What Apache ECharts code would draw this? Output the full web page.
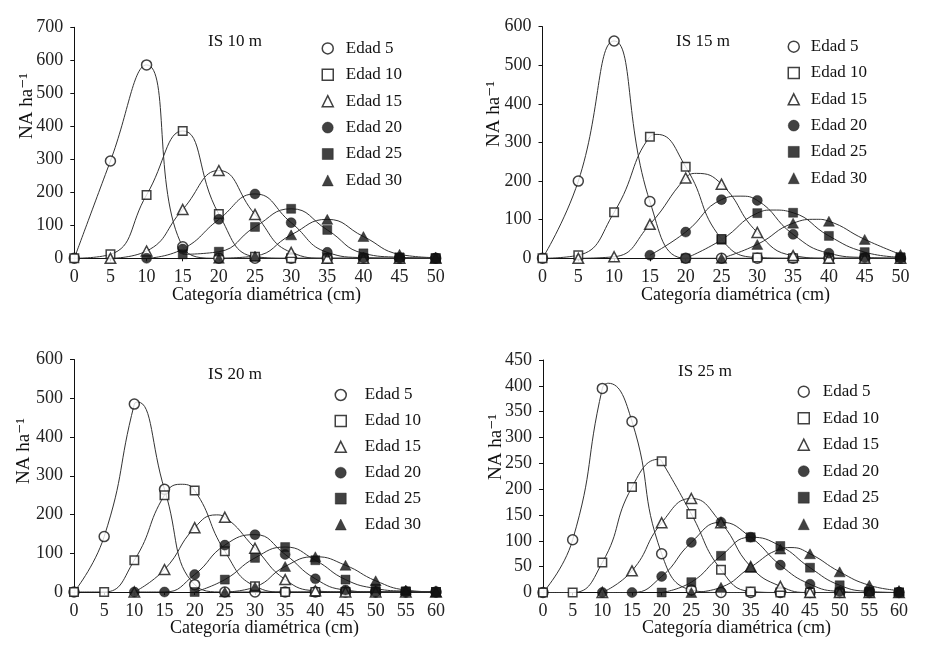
<!DOCTYPE html>
<html><head><meta charset="utf-8">
<script src="https://cdn.jsdelivr.net/npm/echarts@6/dist/echarts.min.js"></script>
<style>html,body{margin:0;padding:0;background:#fff}#c{width:945px;height:653px}</style>
</head><body><div id="c"></div>
<script>
// ---- data ----
const diam50 = [0,5,10,15,20,25,30,35,40,45,50];
const diam60 = [0,5,10,15,20,25,30,35,40,45,50,55,60];
const ageNames = ['Edad 5','Edad 10','Edad 15','Edad 20','Edad 25','Edad 30'];
const panelTitles = ['IS 10 m','IS 15 m','IS 20 m','IS 25 m'];
const yTitle = 'NA ha\u207B\u00B9';
const xTitle = 'Categoría diamétrica (cm)';

// IS 10 m (observed points)
const is10_e5  = [0,295,586,35,0,0,0,0,0,0,0];
const is10_e10 = [0,12,192,386,134,5,0,0,0,0,0];
const is10_e15 = [null,0,22,148,266,133,18,0,0,0,0];
const is10_e20 = [null,null,0,28,118,195,108,18,2,0,0];
const is10_e25 = [null,null,null,12,20,95,150,86,15,3,0];
const is10_e30 = [null,null,null,null,0,7,71,118,66,12,2];
// IS 15 m
const is15_e5  = [0,200,563,147,0,0,0,0,0,0,0];
const is15_e10 = [0,8,119,315,237,50,2,0,0,0,0];
const is15_e15 = [null,0,4,88,208,192,67,7,0,0,0];
const is15_e20 = [null,null,null,8,68,152,150,62,13,2,0];
const is15_e25 = [null,null,null,null,0,48,117,118,58,16,3];
const is15_e30 = [null,null,null,null,null,0,36,91,96,49,10];
// IS 20 m
const is20_e5  = [0,143,485,265,19,0,0,0,0,0,0,0,0];
const is20_e10 = [0,0,82,250,262,105,15,0,0,0,0,0,0];
const is20_e15 = [null,null,0,58,166,193,113,32,3,0,0,0,0];
const is20_e20 = [null,null,0,0,45,121,148,97,34,5,0,0,0];
const is20_e25 = [null,null,null,null,0,32,88,116,82,32,9,2,0];
const is20_e30 = [null,null,null,null,null,0,13,66,91,69,29,5,0];
// IS 25 m
const is25_e5  = [0,102,395,331,75,5,0,0,0,0,0,0,0];
const is25_e10 = [0,0,58,204,254,152,44,2,0,0,0,0,0];
const is25_e15 = [null,null,0,42,135,182,135,50,12,0,0,0,0];
const is25_e20 = [null,null,0,0,31,97,136,107,53,16,2,0,0];
const is25_e25 = [null,null,null,null,0,20,71,107,90,48,14,2,0];
const is25_e30 = [null,null,null,null,null,0,10,49,84,75,40,14,4];

const is10_apex = [null,null,null,null,null,null];
const is15_apex = [null,[16,321],[21.5,220],[27.6,161],[32.2,125],[38.3,101]];
const is20_apex = [[10.6,490],[17.6,278],[23.6,199],null,null,null];
const is25_apex = [[11,405],[19.6,258],null,null,null,[41.8,87]];

const panelX = [diam50, diam50, diam60, diam60];
const panelSeries = [
  [is10_e5,is10_e10,is10_e15,is10_e20,is10_e25,is10_e30],
  [is15_e5,is15_e10,is15_e15,is15_e20,is15_e25,is15_e30],
  [is20_e5,is20_e10,is20_e15,is20_e20,is20_e25,is20_e30],
  [is25_e5,is25_e10,is25_e15,is25_e20,is25_e25,is25_e30]
];
const panelApex = [is10_apex, is15_apex, is20_apex, is25_apex];
const yMax = [700,600,600,450];
const yStep = [100,100,100,50];

// ---- layout / style ----
const FONT = '"Liberation Serif", "DejaVu Serif", serif';
const grids = [
  {left:74.3, top:27.3, width:361.4, height:231},
  {left:542.5, top:26.7, width:358, height:231.6},
  {left:74, top:359.5, width:362, height:232.5},
  {left:543, top:360, width:356, height:232.5}
];
const legendPos = [
  {left:321.5, top:39.9, gap:9.4, pad:7.5},
  {left:787.5, top:38.2, gap:9.3, pad:6.5},
  {left:334.5, top:386.5, gap:8.9, pad:13.5},
  {left:797.5, top:383.2, gap:9.5, pad:8.5}
];
const titlePos = [[235,42],[703,42],[235,375],[705,372]];
const yTitlePos = [[27,106],[494,114],[24,451],[496,447]];
const xTitlePos = [[172,295],[641,295],[170,628],[642,628]];

const symbols = ['circle','rect','triangle','circle','rect','triangle'];
const symSizes = [10, 8.5, [10.5,10], 10, 9, [11,10]];
const openMarker = [true,true,true,false,false,false];
function markerStyle(k){
  return openMarker[k] ? {color:'#fff', borderColor:'#111', borderWidth:1.5}
                       : {color:'#111', borderColor:'#111', borderWidth:0.5};
}

const option = {
  backgroundColor:'#fff',
  animation:false,
  grid: grids.map(g => Object.assign({containLabel:false}, g)),
  xAxis: panelX.map((xs,i) => ({
    type:'value', gridIndex:i, min:0, max:xs[xs.length-1], interval:5,
    axisLine:{show:true, onZero:false, lineStyle:{color:'#111', width:1}},
    axisTick:{show:true, length:3, lineStyle:{color:'#111'}},
    splitLine:{show:false},
    axisLabel:{fontFamily:FONT, fontSize:18, color:'#222', margin:10}
  })),
  yAxis: yMax.map((m,i) => ({
    type:'value', gridIndex:i, min:0, max:m, interval:yStep[i],
    axisLine:{show:true, lineStyle:{color:'#111', width:1}},
    axisTick:{show:true, length:4, lineStyle:{color:'#111'}},
    splitLine:{show:false},
    axisLabel:{fontFamily:FONT, fontSize:18, color:'#222', margin:11}
  })),
  legend: legendPos.map(p => ({
    orient:'vertical', left:p.left, top:p.top, padding:0,
    itemWidth:11, itemHeight:11, itemGap:p.gap, selectedMode:false,
    textStyle:{fontFamily:FONT, fontSize:17, color:'#111', lineHeight:11, padding:[0,0,0,p.pad]},
    data: ageNames.map((n,k) => ({name:n, icon:symbols[k], itemStyle:markerStyle(k)}))
  })),
  graphic: [].concat(
    titlePos.map((p,i) => ({type:'text', x:p[0], y:p[1], style:{text:panelTitles[i], font:'17px '+FONT, fill:'#111', align:'center', verticalAlign:'middle'}})),
    yTitlePos.map(p => ({type:'text', x:p[0], y:p[1], rotation:Math.PI/2, style:{text:yTitle, font:'19px '+FONT, fill:'#111', align:'center', verticalAlign:'middle'}})),
    xTitlePos.map(p => ({type:'text', x:p[0], y:p[1], style:{text:xTitle, font:'18px '+FONT, fill:'#111', align:'left', verticalAlign:'middle'}}))
  ),
  series: []
};

panelSeries.forEach((list,i) => {
  const xs = panelX[i];
  list.forEach((vals,k) => {
    const pts = [];
    vals.forEach((v,j) => { if (v !== null) pts.push([xs[j], v]); });
    const curve = pts.slice();
    const apex = panelApex[i][k];
    if (apex) curve.push(apex);
    curve.sort((a,b) => a[0]-b[0]);
    option.series.push({
      type:'line', name:ageNames[k]+' ajuste', xAxisIndex:i, yAxisIndex:i,
      data:curve, smooth:0.5, symbol:'none', showSymbol:false, silent:true,
      lineStyle:{color:'#333', width:1}, z:2
    });
    option.series.push({
      type:'scatter', name:ageNames[k], xAxisIndex:i, yAxisIndex:i,
      data:pts, symbol:symbols[k], symbolSize:symSizes[k],
      itemStyle:markerStyle(k), z:3
    });
  });
});

const chart = echarts.init(document.getElementById('c'), null, {renderer:'canvas'});
chart.setOption(option);
</script>
</body></html>
